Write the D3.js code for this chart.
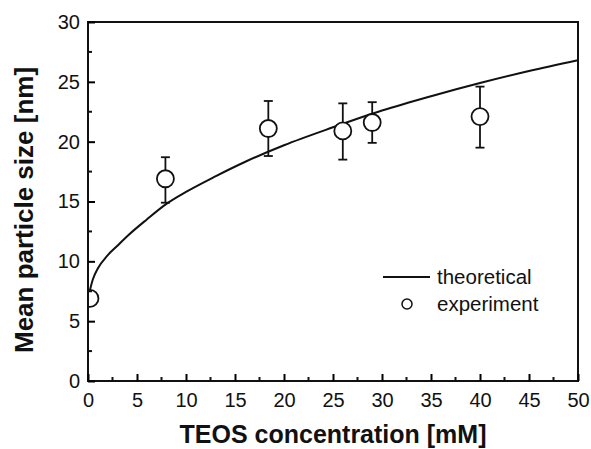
<!DOCTYPE html>
<html>
<head>
<meta charset="utf-8">
<script src="https://cdn.jsdelivr.net/npm/d3@7"></script>
<style>
  body { margin: 0; background: #fff; }
  text { font-family: "Liberation Sans", Arial, sans-serif; fill: #111; }
</style>
</head>
<body>
<div id="chart"></div>
<script>
// experiment points
const expX = [0.2, 7.9, 18.4, 26.0, 29.0, 40.0];
const expY = [6.9, 16.9, 21.1, 20.9, 21.6, 22.1];
const errLo = [6.9, 14.9, 18.8, 18.5, 19.9, 19.5];
const errHi = [6.9, 18.7, 23.4, 23.2, 23.3, 24.6];

// theoretical curve
const theoX = [0, 0.5, 1, 2, 3, 4, 6, 8, 10, 13, 16, 20, 25, 30, 35, 40, 45, 50];
const theoY = [6.9, 8.5, 9.4, 10.5, 11.3, 12.1, 13.5, 14.8, 15.8, 17.1, 18.3, 19.7, 21.2, 22.6, 23.8, 24.9, 25.9, 26.8];

const xTicks = [0, 5, 10, 15, 20, 25, 30, 35, 40, 45, 50];
const yTicks = [0, 5, 10, 15, 20, 25, 30];

var width = 591;
var height = 449;
var margin = { top: 22, right: 13, bottom: 68, left: 88 };

var svg = d3.select('#chart')
  .append('svg')
  .attr('width', width)
  .attr('height', height);

const x = d3.scaleLinear()
  .domain([0, 50])
  .range([margin.left, width - margin.right]);

const y = d3.scaleLinear()
  .domain([0, 30])
  .range([height - margin.bottom, margin.top]);

// curve
const line = d3.line()
  .x(d => x(d[0]))
  .y(d => y(d[1]))
  .curve(d3.curveMonotoneX);

svg.append('path')
  .datum(d3.zip(theoX, theoY))
  .attr('d', line)
  .attr('fill', 'none')
  .attr('stroke', '#111')
  .attr('stroke-width', 2);

// error bars
const pts = expX.map((v, i) => ({ x: v, y: expY[i], lo: errLo[i], hi: errHi[i] }));
const eb = svg.append('g')
  .attr('stroke', '#111')
  .attr('stroke-width', 1.8);

pts.filter(d => d.hi > d.lo).forEach(d => {
  eb.append('line')
    .attr('x1', x(d.x)).attr('x2', x(d.x))
    .attr('y1', y(d.lo)).attr('y2', y(d.hi));
  [d.lo, d.hi].forEach(v => {
    eb.append('line')
      .attr('x1', x(d.x) - 4.5).attr('x2', x(d.x) + 4.5)
      .attr('y1', y(v)).attr('y2', y(v));
  });
});

// circles, clipped at the left axis
svg.append('clipPath').attr('id', 'plotclip')
  .append('rect')
  .attr('x', margin.left)
  .attr('y', margin.top)
  .attr('width', width - margin.left - margin.right)
  .attr('height', height - margin.top - margin.bottom);

svg.append('g')
  .attr('clip-path', 'url(#plotclip)')
  .selectAll('circle')
  .data(pts)
  .join('circle')
    .attr('cx', d => x(d.x))
    .attr('cy', d => y(d.y))
    .attr('r', 8.5)
    .attr('fill', '#fff')
    .attr('stroke', '#111')
    .attr('stroke-width', 1.8);

// frame
svg.append('rect')
  .attr('x', margin.left)
  .attr('y', margin.top)
  .attr('width', width - margin.left - margin.right)
  .attr('height', height - margin.top - margin.bottom)
  .attr('fill', 'none')
  .attr('stroke', '#111')
  .attr('stroke-width', 2);

function xAxis(g) {
  g.attr('transform', `translate(0,${height - margin.bottom})`)
    .call(d3.axisBottom(x).tickValues(xTicks).tickSize(-7).tickPadding(12).tickSizeOuter(0))
    .call(g => g.select('.domain').remove())
    .call(g => g.selectAll('.tick line').attr('stroke-width', 2))
    .attr('font-size', '20px')
    .attr('font-family', '"Liberation Sans", Arial, sans-serif');
  g.selectAll('.minor')
    .data(xTicks.slice(0, -1).map(v => v + 2.5))
    .join('line')
      .attr('x1', d => x(d)).attr('x2', d => x(d))
      .attr('y1', 0).attr('y2', -4)
      .attr('stroke', '#111').attr('stroke-width', 2);
}

function yAxis(g) {
  g.attr('transform', `translate(${margin.left},0)`)
    .call(d3.axisLeft(y).tickValues(yTicks).tickSize(-7).tickPadding(8).tickSizeOuter(0))
    .call(g => g.select('.domain').remove())
    .call(g => g.selectAll('.tick line').attr('stroke-width', 2))
    .attr('font-size', '20px')
    .attr('font-family', '"Liberation Sans", Arial, sans-serif');
  g.selectAll('.minor')
    .data(yTicks.slice(0, -1).map(v => v + 2.5))
    .join('line')
      .attr('x1', 0).attr('x2', 4)
      .attr('y1', d => y(d)).attr('y2', d => y(d))
      .attr('stroke', '#111').attr('stroke-width', 2);
}

svg.append('g').call(xAxis);
svg.append('g').call(yAxis);
svg.selectAll('.tick text').attr('fill', '#111');

// axis titles
svg.append('text')
  .attr('text-anchor', 'middle')
  .attr('x', x(25))
  .attr('y', 443)
  .attr('font-size', '25px')
  .attr('font-weight', 'bold')
  .text('TEOS concentration [mM]');

svg.append('text')
  .attr('text-anchor', 'middle')
  .attr('transform', 'translate(33,210) rotate(-90)')
  .attr('font-size', '26px')
  .attr('font-weight', 'bold')
  .text('Mean particle size [nm]');

// legend
const lg = svg.append('g');
lg.append('line')
  .attr('x1', 383).attr('x2', 430)
  .attr('y1', 277).attr('y2', 277)
  .attr('stroke', '#111').attr('stroke-width', 2);
lg.append('text')
  .attr('x', 437).attr('y', 284)
  .attr('font-size', '20.5px')
  .text('theoretical');
lg.append('circle')
  .attr('cx', 407).attr('cy', 304).attr('r', 5)
  .attr('fill', '#fff').attr('stroke', '#111').attr('stroke-width', 1.5);
lg.append('text')
  .attr('x', 437).attr('y', 311)
  .attr('font-size', '20.5px')
  .text('experiment');
</script>
</body>
</html>
